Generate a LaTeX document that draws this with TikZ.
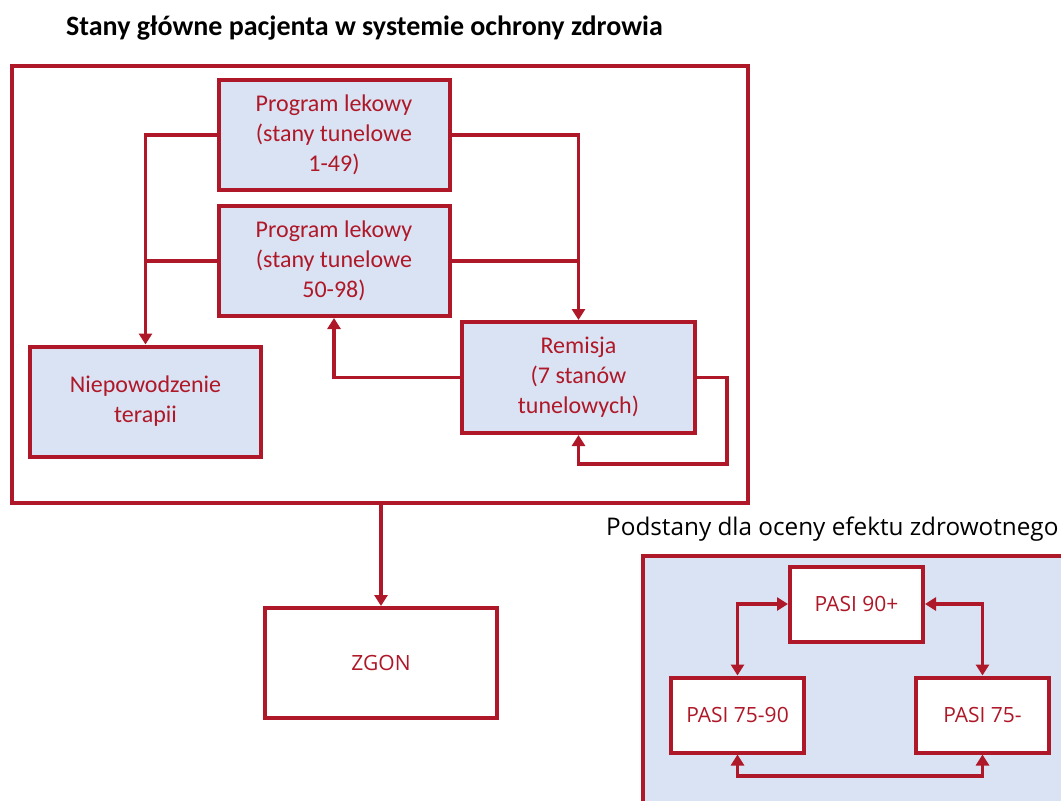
\documentclass[tikz,border=0pt]{standalone}
\usepackage{fontspec}
\setmainfont{Carlito}
\newfontfamily\osans{Open Sans}
\usetikzlibrary{arrows.meta,calc}
\definecolor{dred}{RGB}{175,24,40}
\definecolor{lblue}{RGB}{218,227,243}
\begin{document}
\begin{tikzpicture}[x=1pt,y=-1pt,
  box/.style={draw=dred,line width=4pt,fill=lblue,text=dred,align=center,
    inner sep=0pt,font=\fontsize{24}{30}\selectfont},
  wbox/.style={draw=dred,line width=4pt,fill=white,text=dred,align=center,
    inner sep=0pt,font=\osans\fontsize{21}{26}\selectfont},
  conn/.style={draw=dred,line width=3.4pt},
  arr/.style={conn,-{Triangle[length=11pt,width=13pt]}},
  darr/.style={conn,{Triangle[length=11pt,width=13pt]}-{Triangle[length=11pt,width=13pt]}}]
\useasboundingbox (0,0) rectangle (1061,801);
\clip (0,0) rectangle (1061,801);
% title
\node[anchor=base west,inner sep=0pt,font=\bfseries\fontsize{28}{34}\selectfont] (title) at (66,35)
  {Stany główne pacjenta w systemie ochrony zdrowia};
% outer frame
\node[draw=dred,line width=4pt,minimum width=736pt,minimum height=437pt,inner sep=0pt] (outer) at (380,284) {};
% main boxes
\node[box,minimum width=231pt,minimum height=110pt] (pl1) at (334,135) {Program lekowy\\(stany tunelowe\\1-49)};
\node[box,minimum width=231pt,minimum height=110pt] (pl2) at (334,261) {Program lekowy\\(stany tunelowe\\50-98)};
\node[box,minimum width=231pt,minimum height=110pt] (niep) at (145.5,401.5) {Niepowodzenie\\terapii};
\node[box,minimum width=233pt,minimum height=111pt] (rem) at (578.5,377.5) {Remisja\\(7 stanów\\tunelowych)};
\node[wbox,minimum width=232pt,minimum height=110pt] (zgon) at (381,663) {ZGON};
% connectors
\draw[arr] (pl1.west) -| (niep.north);
\draw[conn] (pl2.west) -- (pl2.west -| niep.north);
\draw[arr] (pl1.east) -| (rem.north);
\draw[conn] (pl2.east) -- (pl2.east -| rem.north);
\draw[arr] (rem.west) -| (pl2.south);
\coordinate (loop) at (727,464);
\draw[arr] (rem.east) -| (loop) -| (rem.south);
\draw[arr] (outer.south -| zgon.north) -- (zgon.north);
% sub-states
\node[anchor=base west,inner sep=0pt,font=\osans\fontsize{24.3}{30}\selectfont] (subtitle) at (606,535)
  {Podstany dla oceny efektu zdrowotnego};
\path[draw=dred,fill=lblue,line width=4pt] (643,556) rectangle (1080,820);
\node[wbox,minimum width=133pt,minimum height=75pt] (p90) at (856.5,604) {PASI 90+};
\node[wbox,minimum width=133pt,minimum height=75pt] (p7590) at (737.5,715) {PASI 75-90};
\node[wbox,minimum width=133pt,minimum height=75pt] (p75) at (982.5,715) {PASI 75-};
\coordinate (bot) at (737.5,776);
\draw[darr] (p90.west) -| (p7590.north);
\draw[darr] (p90.east) -| (p75.north);
\draw[darr] (p7590.south) -- (bot) -| (p75.south);
\end{tikzpicture}
\end{document}
